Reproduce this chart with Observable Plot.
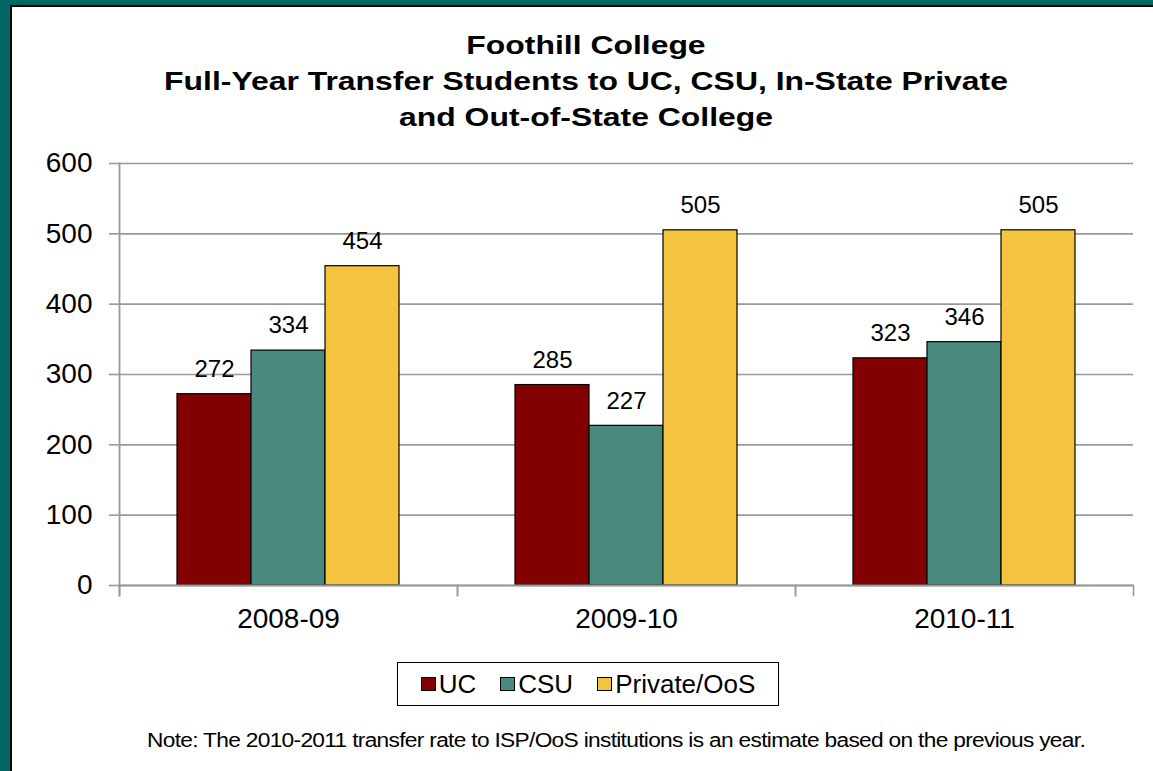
<!DOCTYPE html>
<html>
<head>
<meta charset="utf-8">
<script src="https://cdn.jsdelivr.net/npm/d3@7"></script>
<script src="https://cdn.jsdelivr.net/npm/@observablehq/plot@0.6"></script>
<style>
  html, body { margin: 0; padding: 0; }
  body { width: 1153px; height: 771px; background: #006666; position: relative; overflow: hidden;
         font-family: "Liberation Sans", Arial, sans-serif; color: #000; }
  #panel { position: absolute; left: 10px; top: 5px; width: 1143px; height: 766px; background: #fff;
           border-left: 2px solid #000; border-top: 2px solid #000; box-sizing: border-box; }
  #title { position: absolute; left: 0px; width: 1172px; top: 27px; text-align: center;
           font-weight: bold; font-size: 26px; line-height: 36px; transform: scaleX(1.227); transform-origin: 586px 0; }
  #chart { position: absolute; left: 12px; top: 140px; }
  #legend { position: absolute; left: 397px; top: 662px; width: 382px; height: 44px; box-sizing: border-box;
            border: 1.5px solid #000; display: flex; align-items: center; justify-content: center; font-size: 26px; }
  #legend .item { display: flex; align-items: center; margin: 0 12px; }
  #legend .sw { width: 13px; height: 12px; border: 1.5px solid #000; margin-right: 3px; box-sizing: content-box; }
  #note { position: absolute; left: 0px; width: 1232px; top: 728px; text-align: center;
          font-size: 20px; letter-spacing: -0.6px; line-height: 24px; transform: scaleX(1.135); transform-origin: 616px 0; }
</style>
</head>
<body>
<div id="panel"></div>
<div id="title">Foothill College<br>Full-Year Transfer Students to UC, CSU, In-State Private<br>and Out-of-State College</div>
<div id="chart"></div>
<div id="legend"></div>
<div id="note">Note: The 2010-2011 transfer rate to ISP/OoS institutions is an estimate based on the previous year.</div>
<script>
const years = ["2008-09", "2009-10", "2010-11"];
const series = ["UC", "CSU", "Private/OoS"];
const ucValues = [272, 285, 323];
const csuValues = [334, 227, 346];
const privateValues = [454, 505, 505];
const colors = ["#830000", "#4a8a7e", "#f4c441"];
const yTicks = [0, 100, 200, 300, 400, 500, 600];

const valuesBySeries = [ucValues, csuValues, privateValues];
const data = [];
years.forEach((year, i) => {
  series.forEach((s, j) => data.push({year, series: s, value: valuesBySeries[j][i]}));
});

const W = 1141, H = 505, mT = 23, mB = 60, mL = 106, mR = 20;
const innerH = H - mT - mB;
const gray = "#999";

const plot = Plot.plot({
  width: W, height: H,
  marginTop: mT, marginBottom: mB, marginLeft: mL, marginRight: mR,
  style: {fontFamily: "'Liberation Sans', Arial, sans-serif", fontSize: "28px", color: "#000", background: "transparent"},
  fx: {domain: years, paddingInner: 0, paddingOuter: 0, label: null},
  x: {domain: series, paddingInner: 0, paddingOuter: 0.755, axis: null},
  y: {domain: [0, 600], label: null},
  color: {domain: series, range: colors},
  marks: [
    Plot.gridY(yTicks, {stroke: gray, strokeOpacity: 1, strokeWidth: 1.6}),
    Plot.barY(data, {fx: "year", x: "series", y: "value", fill: "series", stroke: "#000", strokeWidth: 1.2}),
    Plot.ruleY([0], {stroke: gray, strokeWidth: 1.8}),
    Plot.frame({anchor: "left", facetAnchor: "left", stroke: gray, strokeWidth: 1.8, insetBottom: -10}),
    Plot.frame({anchor: "left", stroke: gray, strokeWidth: 1.6, insetTop: innerH, insetBottom: -10}),
    Plot.frame({anchor: "right", stroke: gray, strokeWidth: 1.6, insetTop: innerH, insetBottom: -10}),
    Plot.text(data, {fx: "year", x: "series", y: "value", text: d => String(d.value), fontSize: 24,
                     lineAnchor: "middle", dy: -25, fill: "#000"}),
    Plot.axisY(yTicks, {anchor: "left", tickSize: 10, tickPadding: 17, stroke: gray, strokeWidth: 1.6,
                        fill: "#000", fontSize: 28, label: null}),
    Plot.axisFx({anchor: "bottom", tickSize: 0, tickPadding: 23, fontSize: 28, fill: "#000", label: null})
  ]
});
document.getElementById("chart").appendChild(plot);

const legend = document.getElementById("legend");
series.forEach((s, i) => {
  const item = document.createElement("div");
  item.className = "item";
  const sw = document.createElement("div");
  sw.className = "sw";
  sw.style.background = colors[i];
  const label = document.createElement("span");
  label.textContent = s;
  item.appendChild(sw);
  item.appendChild(label);
  legend.appendChild(item);
});
</script>
</body>
</html>
